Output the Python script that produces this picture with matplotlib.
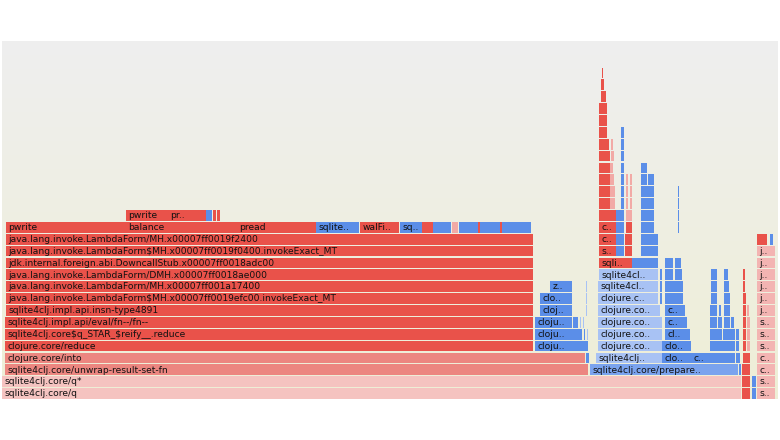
import numpy as np
import matplotlib.pyplot as plt
from matplotlib.patches import Rectangle
import matplotlib.colors as mcolors

# frames: (depth, start, end, kind, label); start/end in samples
base_stack = [
    (0, 0, 739, 'pale', 'sqlite4clj.core/q'),
    (1, 0, 739, 'pale', 'sqlite4clj.core/q*'),
    (2, 3, 586, 'salmon', 'sqlite4clj.core/unwrap-result-set-fn'),
    (3, 3, 583, 'salmon', 'clojure.core/into'),
    (4, 3, 531, 'red', 'clojure.core/reduce'),
    (5, 3, 531, 'red', 'sqlite4clj.core$q_STAR_$reify__.reduce'),
    (6, 3, 531, 'red', 'sqlite4clj.impl.api/eval/fn--/fn--'),
    (7, 4, 531, 'red', 'sqlite4clj.impl.api.insn-type4891'),
    (8, 4, 531, 'red', 'java.lang.invoke.LambdaForm$MH.x00007ff0019efc00.invokeExact_MT'),
    (9, 4, 531, 'red', 'java.lang.invoke.LambdaForm/MH.x00007ff001a17400'),
    (10, 4, 531, 'red', 'java.lang.invoke.LambdaForm/DMH.x00007ff0018ae000'),
    (11, 4, 531, 'red', 'jdk.internal.foreign.abi.DowncallStub.x00007ff0018adc00'),
    (12, 4, 531, 'red', 'java.lang.invoke.LambdaForm$MH.x00007ff0019f0400.invokeExact_MT'),
    (13, 4, 531, 'red', 'java.lang.invoke.LambdaForm/MH.x00007ff0019f2400'),
]

io_frames = [
    (14, 4, 124, 'red', 'pwrite'),
    (14, 124, 235, 'red', 'balance'),
    (14, 235, 314, 'red', 'pread'),
    (14, 314, 357, 'blue', 'sqlite..'),
    (14, 358, 397, 'red', 'walFi..'),
    (14, 398, 420, 'blue', 'sq..'),
    (14, 420, 431, 'red', ''),
    (14, 431, 449, 'blue', ''),
    (14, 450, 456, 'lpink', ''),
    (14, 457, 476, 'blue', ''),
    (14, 476, 478, 'red', ''),
    (14, 478, 498, 'blue', ''),
    (14, 498, 500, 'red', ''),
    (14, 500, 511, 'blue', ''),
    (14, 511, 518, 'blue', ''),
    (14, 518, 523, 'blue', ''),
    (14, 523, 526, 'blue', ''),
    (14, 526, 529, 'blue', ''),
    (15, 124, 166, 'red', 'pwrite'),
    (15, 166, 204, 'red', 'pr..'),
    (15, 204, 210, 'blue', ''),
    (15, 211, 214, 'red', ''),
    (15, 215, 218, 'red', ''),
]

reduce_frames = [
    (3, 584, 587, 'blue', ''),
    (4, 533, 586, 'blue', 'cloju..'),
    (5, 533, 580, 'blue', 'cloju..'),
    (5, 582, 583, 'blue', ''),
    (5, 585, 586, 'lblue', ''),
    (6, 533, 570, 'blue', 'cloju..'),
    (6, 571, 576, 'blue', ''),
    (6, 578, 579, 'lblue', ''),
    (6, 581, 582, 'lblue', ''),
    (7, 538, 570, 'blue', 'cloj..'),
    (7, 584, 585, 'lblue', ''),
    (8, 538, 570, 'blue', 'clo..'),
    (8, 584, 585, 'lblue', ''),
    (9, 548, 570, 'blue', 'z..'),
    (9, 584, 585, 'lblue', ''),
]

prepare_frames = [
    (2, 588, 736, 'mblue', 'sqlite4clj.core/prepare..'),
    (2, 737, 739, 'blue', ''),
    (3, 594, 660, 'lblue', 'sqlite4clj..'),
    (3, 660, 689, 'blue', 'clo..'),
    (3, 689, 720, 'blue', 'c..'),
    (3, 720, 733, 'blue', ''),
    (3, 734, 738, 'blue', ''),
    (4, 596, 660, 'lblue', 'clojure.co..'),
    (4, 660, 689, 'blue', 'clo..'),
    (4, 708, 720, 'blue', ''),
    (4, 720, 733, 'blue', ''),
    (4, 734, 737, 'blue', ''),
    (5, 596, 660, 'lblue', 'clojure.co..'),
    (5, 663, 688, 'blue', 'cl..'),
    (5, 708, 720, 'blue', ''),
    (5, 721, 733, 'blue', ''),
    (5, 734, 737, 'blue', ''),
    (6, 596, 660, 'lblue', 'clojure.co..'),
    (6, 663, 685, 'blue', 'c..'),
    (6, 708, 715, 'blue', ''),
    (6, 716, 720, 'blue', ''),
    (6, 722, 728, 'blue', ''),
    (6, 729, 732, 'blue', ''),
    (7, 596, 658, 'lblue', 'clojure.co..'),
    (7, 663, 683, 'blue', 'c..'),
    (7, 708, 715, 'blue', ''),
    (7, 717, 719, 'blue', ''),
    (7, 722, 728, 'blue', ''),
    (8, 596, 656, 'lblue', 'clojure.c..'),
    (8, 658, 660, 'blue', ''),
    (8, 663, 681, 'blue', ''),
    (8, 709, 715, 'blue', ''),
    (8, 722, 728, 'blue', ''),
    (9, 596, 656, 'lblue', 'sqlite4cl..'),
    (9, 658, 660, 'blue', ''),
    (9, 663, 673, 'blue', ''),
    (9, 673, 681, 'blue', ''),
    (9, 709, 715, 'blue', ''),
    (9, 722, 727, 'blue', ''),
    (10, 597, 656, 'lblue', 'sqlite4cl..'),
    (10, 658, 660, 'blue', ''),
    (10, 663, 671, 'blue', ''),
    (10, 673, 680, 'blue', ''),
    (10, 709, 715, 'blue', ''),
    (10, 722, 726, 'blue', ''),
    (11, 597, 630, 'red', 'sqli..'),
    (11, 630, 656, 'blue', ''),
    (11, 663, 671, 'blue', ''),
    (11, 673, 679, 'blue', ''),
    (12, 597, 614, 'red', 's..'),
    (12, 614, 622, 'blue', ''),
    (12, 623, 630, 'red', ''),
    (12, 639, 656, 'blue', ''),
    (13, 597, 614, 'red', 'c..'),
    (13, 614, 622, 'blue', ''),
    (13, 623, 630, 'red', ''),
    (13, 639, 656, 'blue', ''),
    (14, 597, 614, 'red', 'c..'),
    (14, 614, 622, 'blue', ''),
    (14, 624, 630, 'red', ''),
    (14, 639, 652, 'blue', ''),
    (14, 676, 677, 'blue', ''),
    (15, 597, 614, 'red', ''),
    (15, 614, 622, 'blue', ''),
    (15, 624, 630, 'lpink', ''),
    (15, 639, 652, 'blue', ''),
    (15, 676, 677, 'blue', ''),
    (16, 597, 608, 'red', ''),
    (16, 608, 613, 'lpink', ''),
    (16, 619, 622, 'blue', ''),
    (16, 624, 626, 'lpink', ''),
    (16, 628, 630, 'lpink', ''),
    (16, 639, 652, 'blue', ''),
    (16, 676, 677, 'blue', ''),
    (17, 597, 608, 'red', ''),
    (17, 608, 613, 'lpink', ''),
    (17, 619, 622, 'blue', ''),
    (17, 624, 626, 'lpink', ''),
    (17, 628, 630, 'lpink', ''),
    (17, 639, 652, 'blue', ''),
    (17, 676, 677, 'blue', ''),
    (18, 597, 608, 'red', ''),
    (18, 608, 612, 'lpink', ''),
    (18, 619, 622, 'blue', ''),
    (18, 624, 626, 'lpink', ''),
    (18, 628, 630, 'lpink', ''),
    (18, 639, 645, 'blue', ''),
    (18, 646, 652, 'blue', ''),
    (19, 597, 608, 'red', ''),
    (19, 608, 611, 'lpink', ''),
    (19, 619, 622, 'blue', ''),
    (19, 639, 645, 'blue', ''),
    (20, 597, 608, 'red', ''),
    (20, 609, 612, 'lpink', ''),
    (20, 619, 622, 'blue', ''),
    (21, 597, 607, 'red', ''),
    (21, 609, 611, 'lpink', ''),
    (21, 619, 622, 'blue', ''),
    (22, 597, 605, 'red', ''),
    (22, 619, 622, 'blue', ''),
    (23, 597, 605, 'red', ''),
    (24, 597, 605, 'red', ''),
    (25, 599, 604, 'red', ''),
    (26, 599, 602, 'red', ''),
    (27, 600, 601, 'red', ''),
]

right_frames = [
    (0, 740, 748, 'red', ''),
    (0, 750, 754, 'blue', ''),
    (0, 755, 773, 'pink', 's..'),
    (1, 740, 748, 'red', ''),
    (1, 750, 754, 'blue', ''),
    (1, 755, 773, 'pink', 's..'),
    (2, 740, 748, 'red', ''),
    (2, 755, 773, 'pink', 'c..'),
    (3, 741, 748, 'red', ''),
    (3, 755, 773, 'pink', 'c..'),
    (4, 741, 744, 'red', ''),
    (4, 745, 748, 'lpink', ''),
    (4, 755, 773, 'pink', 's..'),
    (5, 741, 744, 'red', ''),
    (5, 745, 748, 'lpink', ''),
    (5, 755, 773, 'pink', 's..'),
    (6, 741, 744, 'red', ''),
    (6, 745, 748, 'lpink', ''),
    (6, 755, 773, 'pink', 's..'),
    (7, 741, 744, 'red', ''),
    (7, 745, 747, 'lpink', ''),
    (7, 755, 773, 'pink', 'j..'),
    (8, 741, 744, 'red', ''),
    (8, 755, 773, 'pink', 'j..'),
    (9, 741, 743, 'red', ''),
    (9, 755, 773, 'pink', 'j..'),
    (10, 741, 743, 'red', ''),
    (10, 755, 773, 'pink', 'j..'),
    (11, 755, 773, 'pink', 'j..'),
    (12, 755, 773, 'pink', 'j..'),
    (13, 755, 765, 'red', ''),
    (13, 768, 771, 'blue', ''),
]

total_samples = 776
palette = {
    'red': '#e9524a',
    'salmon': '#ec8680',
    'pale': '#f5c3c0',
    'pink': '#f3b4b2',
    'lpink': '#f2aaa6',
    'blue': '#5b8ee8',
    'mblue': '#7aa3ee',
    'lblue': '#a8c2f4',
}

W, H = 780, 440
row_px = 11.875
fig = plt.figure(figsize=(W / 100, H / 100), dpi=100)
top_px, bottom_px = 41, 399.5
ax = fig.add_axes([2 / W, (H - bottom_px) / H, 776 / W, (bottom_px - top_px) / H])
ymax = (bottom_px - top_px) / row_px
ax.set_xlim(0, total_samples)
ax.set_ylim(0, ymax)
ax.axis('off')

# background gradient like flamegraph svg
c_top = np.array(mcolors.to_rgb('#efefef'))
c_bot = np.array(mcolors.to_rgb('#eeeed6'))
t = np.linspace(0, 1, 256)[:, None]
grad = c_top * (1 - t) + c_bot * t
ax.imshow(grad[:, None, :], extent=[0, total_samples, 0, ymax], aspect='auto',
          origin='upper', zorder=0)

for group in (base_stack, io_frames, reduce_frames, prepare_frames, right_frames):
    for depth, x0, x1, kind, label in group:
        rect = Rectangle((x0, depth + 0.05), x1 - x0 - 0.5, 0.9,
                         facecolor=palette[kind], edgecolor='none', zorder=2)
        ax.add_patch(rect)
        if label:
            txt = ax.text(x0 + 2.5, depth + 0.48, label, fontsize=6.6, va='center',
                          ha='left', color='#111111', family='DejaVu Sans',
                          zorder=3, parse_math=False)
            txt.set_clip_path(rect)

fig.savefig('out.png', dpi=100)
